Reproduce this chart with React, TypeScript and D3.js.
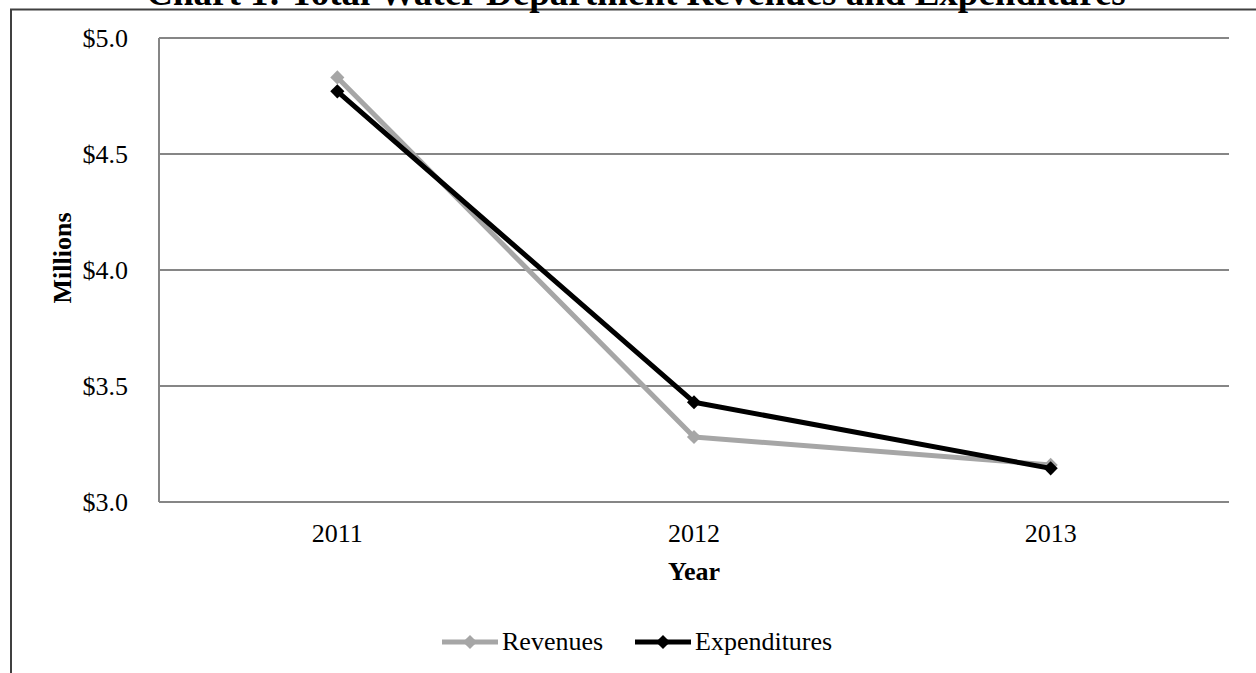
import React from "react";
import * as d3 from "d3";

const years = ["2011", "2012", "2013"];
const revenues = [4.83, 3.28, 3.16];
const expenditures = [4.77, 3.43, 3.145];
const yTicks = [3.0, 3.5, 4.0, 4.5, 5.0];
const seriesNames = ["Revenues", "Expenditures"];
const seriesColors = ["#a6a6a6", "#000000"];

const W = 1256;
const H = 673;
const FONT = "'Liberation Serif', 'Times New Roman', serif";

export default function App() {
  const left = 159, right = 1229, top = 38, bottom = 502;
  const x = d3.scaleBand<string>().domain(years).range([left, right]);
  const y = d3.scaleLinear().domain([3, 5]).range([bottom, top]);
  const line = d3
    .line<number>()
    .x((_, i) => (x(years[i]) as number) + x.bandwidth() / 2)
    .y((d) => y(d));
  const diamond = d3.symbol().type(d3.symbolSquare).size(100)();
  const series = [revenues, expenditures];

  const legendItems = [
    { x0: 442, tx: 502 },
    { x0: 635, tx: 695 },
  ];

  return (
    <svg
      width={W}
      height={H}
      style={{ position: "absolute", left: 0, top: 0, background: "#fff" }}
      fontFamily={FONT}
    >
      <rect x={0} y={0} width={W} height={H} fill="#fff" />
      {/* outer chart frame */}
      <rect x={11} y={9.5} width={1300} height={700} fill="none" stroke="#404040" strokeWidth={2} />
      <text x={636} y={5} textAnchor="middle" fontSize={37} fontWeight="bold" fill="#000">
        Chart 1: Total Water Department Revenues and Expenditures
      </text>

      {/* gridlines */}
      {yTicks.map((t) => (
        <line key={t} x1={left} x2={right} y1={y(t)} y2={y(t)} stroke="#868686" strokeWidth={2} />
      ))}
      <line x1={left} x2={left} y1={top} y2={bottom} stroke="#868686" strokeWidth={2} />

      {yTicks.map((t) => (
        <text key={t} x={128} y={y(t) + 9} textAnchor="end" fontSize={26} fill="#000">
          {"$" + t.toFixed(1)}
        </text>
      ))}
      {years.map((yr) => (
        <text
          key={yr}
          x={(x(yr) as number) + x.bandwidth() / 2}
          y={542}
          textAnchor="middle"
          fontSize={26}
          fill="#000"
        >
          {yr}
        </text>
      ))}
      <text x={694} y={580} textAnchor="middle" fontSize={26} fontWeight="bold" fill="#000">
        Year
      </text>
      <text
        transform={`translate(71,258) rotate(-90)`}
        textAnchor="middle"
        fontSize={26}
        fontWeight="bold"
        fill="#000"
      >
        Millions
      </text>

      {series.map((s, si) => (
        <g key={si}>
          <path d={line(s) || ""} fill="none" stroke={seriesColors[si]} strokeWidth={5} strokeLinejoin="round" />
          {s.map((v, i) => (
            <path
              key={i}
              d={diamond || ""}
              transform={`translate(${(x(years[i]) as number) + x.bandwidth() / 2},${y(v)}) rotate(45)`}
              fill={seriesColors[si]}
            />
          ))}
        </g>
      ))}

      {legendItems.map((it, i) => (
        <g key={i}>
          <line x1={it.x0} x2={it.x0 + 56} y1={642} y2={642} stroke={seriesColors[i]} strokeWidth={5} />
          <path d={diamond || ""} transform={`translate(${it.x0 + 28},642) rotate(45)`} fill={seriesColors[i]} />
          <text x={it.tx} y={650} fontSize={26} fill="#000">
            {seriesNames[i]}
          </text>
        </g>
      ))}
    </svg>
  );
}
